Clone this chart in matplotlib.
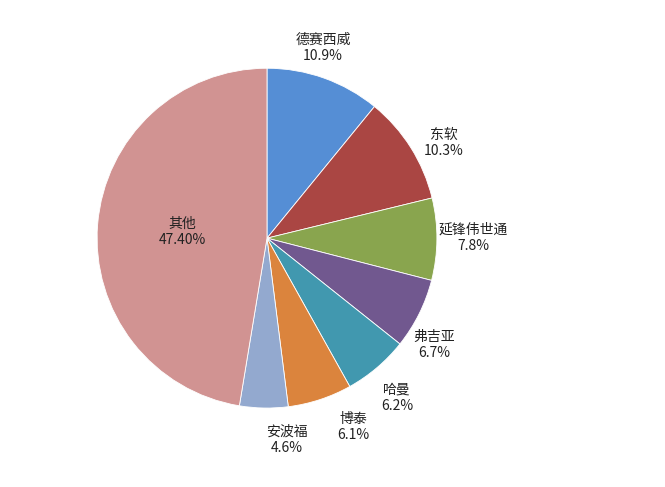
import matplotlib
matplotlib.use("Agg")
import matplotlib.pyplot as plt
import numpy as np

plt.rcParams['font.family'] = ['Noto Sans CJK SC', 'DejaVu Sans']

categories = ['德赛西威', '东软', '延锋伟世通', '弗吉亚', '哈曼', '博泰', '安波福', '其他']
values = [10.9, 10.3, 7.8, 6.7, 6.2, 6.1, 4.6, 47.40]
pct_labels = ['10.9%', '10.3%', '7.8%', '6.7%', '6.2%', '6.1%', '4.6%', '47.40%']
colors = ['#558ED5', '#AA4643', '#89A54E', '#71588F', '#4198AF', '#DB843D', '#93A9CF', '#D19392']
# label placement: radial distance (in radii) and angular nudge (deg) from wedge middle
label_dist = [1.165, 1.182, 1.212, 1.166, 1.213, 1.222, 1.194, 0.501]
label_nudge = [3.2, -4.0, 0.4, -6.2, -1.2, 6.3, 6.8, 0.7]

fig = plt.figure(figsize=(6.65, 4.87), dpi=100)
ax = fig.add_axes([0.146, 0.162, 0.511, 0.698])
wedges, _ = ax.pie(values, colors=colors, startangle=90, counterclock=False,
                   wedgeprops=dict(edgecolor='white', linewidth=0.6))
ax.set_xlim(-1, 1)
ax.set_ylim(-1, 1)
ax.set_aspect('equal')

for w, name, pct, d, n in zip(wedges, categories, pct_labels, label_dist, label_nudge):
    ang = np.deg2rad((w.theta1 + w.theta2) / 2 + n)
    x, y = d * np.cos(ang), d * np.sin(ang)
    ax.text(x, y, f'{name}\n{pct}', ha='center', va='center', fontsize=10,
            color='#222222', linespacing=1.2)

fig.savefig('out.png', dpi=100, facecolor='white')
